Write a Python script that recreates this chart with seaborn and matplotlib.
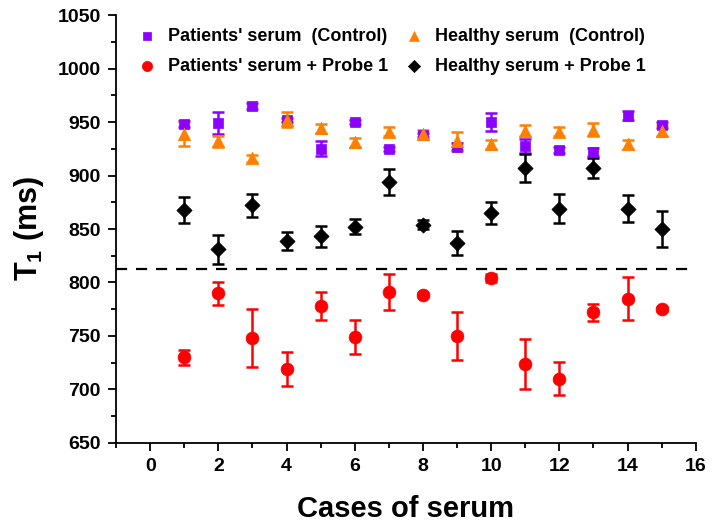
import numpy as np
import pandas as pd
import matplotlib
matplotlib.use("Agg")
import matplotlib.pyplot as plt
import seaborn as sns
from matplotlib.ticker import MultipleLocator

# -------------------------------
# DATA
# -------------------------------

cases = list(range(1, 16))

patients_ctrl = [948, 949, 965, 952, 925, 950, 925, 938, 927, 950, 928, 924, 922, 956, 947]
patients_ctrl_err = [3, 10, 3, 2, 7, 2, 2, 2, 3, 8, 6.5, 3, 4, 4, 3]

healthy_ctrl = [939, 932, 916, 952, 944, 931, 941, 939, 932, 929, 942, 941, 943, 929, 942]
healthy_ctrl_err = [11.5, 5, 3, 7, 4, 4, 4, 4, 9, 4, 5, 4, 6.5, 4, 5]

patients_probe = [730, 790, 748, 719, 778, 749, 791, 788, 750, 804, 724, 710, 772, 785, 775]
patients_probe_err = [6.7, 10.6, 26.8, 15.6, 13.2, 16, 17.1, 2, 22, 4, 23.4, 15.6, 8.3, 20, 2]

healthy_probe = [868, 831, 872, 839, 843, 852, 894, 854, 837, 865, 907, 869, 907, 869, 850]
healthy_probe_err = [12, 13.5, 11, 8.5, 9.5, 7, 12, 4, 11.4, 10, 13.4, 13.7, 9.7, 12.8, 16.4]

threshold = 813

series = [
    ("Patients' serum  (Control)", patients_ctrl, patients_ctrl_err, "#8B00FF", "s", 55),
    ("Patients' serum + Probe 1", patients_probe, patients_probe_err, "#FF0000", "o", 85),
    ("Healthy serum  (Control)", healthy_ctrl, healthy_ctrl_err, "#FF8000", "^", 80),
    ("Healthy serum + Probe 1", healthy_probe, healthy_probe_err, "#000000", "D", 60),
]

# -------------------------------
# STYLE
# -------------------------------

sns.set_style("ticks")
plt.rcParams["font.family"] = ["Liberation Sans", "DejaVu Sans"]
plt.rcParams["font.weight"] = "bold"
plt.rcParams["text.color"] = "black"
plt.rcParams["axes.labelcolor"] = "black"
plt.rcParams["xtick.color"] = "black"
plt.rcParams["ytick.color"] = "black"
plt.rcParams["axes.edgecolor"] = "black"
plt.rcParams["mathtext.fontset"] = "custom"
plt.rcParams["mathtext.bf"] = "Liberation Sans:bold"
plt.rcParams["mathtext.rm"] = "Liberation Sans:bold"

fig = plt.figure(figsize=(7.27, 5.29), dpi=100)
ax = fig.add_axes([0.1596, 0.1626, 0.7974, 0.809])

# -------------------------------
# PLOT
# -------------------------------

ax.axhline(threshold, color="black", linestyle=(0, (5, 4)), linewidth=1.6, zorder=1)

for label, vals, errs, color, marker, size in series:
    df = pd.DataFrame({"case": cases, "T1": vals, "err": errs})
    ax.errorbar(df["case"], df["T1"], yerr=df["err"], fmt="none", ecolor=color,
                elinewidth=1.8, capsize=4.5, capthick=1.8, zorder=2)
    sns.scatterplot(data=df, x="case", y="T1", ax=ax, color=color, marker=marker,
                    s=size, edgecolor=color, linewidth=0.5, label=label, zorder=3)

ax.set_xlim(-1, 16)
ax.set_ylim(650, 1050)
ax.xaxis.set_major_locator(MultipleLocator(2))
ax.xaxis.set_minor_locator(MultipleLocator(1))
ax.yaxis.set_major_locator(MultipleLocator(50))
ax.yaxis.set_minor_locator(MultipleLocator(25))

ax.tick_params(which="major", direction="out", length=6, width=1.3, labelsize=14, pad=5,
               colors="black")
ax.tick_params(which="minor", direction="out", length=3.5, width=1.3, colors="black")
for lab in ax.get_xticklabels() + ax.get_yticklabels():
    lab.set_fontweight("bold")

sns.despine(ax=ax)
for sp in ["left", "bottom"]:
    ax.spines[sp].set_linewidth(1.3)
    ax.spines[sp].set_color("black")

ax.set_xlabel("Cases of serum", fontsize=21, fontweight="bold", labelpad=14, color="black")
ax.set_ylabel(r"T$_\mathbf{1}$ (ms)", fontsize=22, fontweight="bold", labelpad=8, color="black")

handles, labels = ax.get_legend_handles_labels()
leg = ax.legend(handles, labels, ncol=2, loc="upper left", bbox_to_anchor=(0.0, 1.0),
                frameon=False, prop={"weight": "bold", "size": 13}, handletextpad=0.2,
                columnspacing=0.4, labelspacing=0.75, borderaxespad=0.3, markerscale=0.8)
for t in leg.get_texts():
    t.set_color("black")

fig.savefig("out.png", dpi=100)
